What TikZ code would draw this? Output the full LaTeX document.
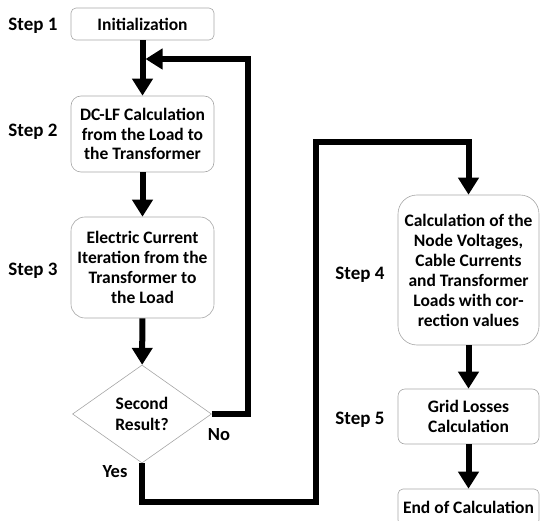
\documentclass[tikz,border=0pt]{standalone}
\usepackage{fontspec}
\setmainfont{Carlito}
\usetikzlibrary{arrows.meta,shapes.geometric}
\newlength{\BoxWidth}
\setlength{\BoxWidth}{143pt}
\tikzset{
  step box/.style={draw=gray!70, line width=0.6pt, minimum width=\BoxWidth,
    align=center, inner sep=2pt, font=\bfseries\fontsize{17.5}{20}\selectfont},
  decision/.style={draw=gray!70, line width=0.6pt, diamond, aspect=1.42,
    minimum width=139pt, minimum height=98pt, inner sep=0pt, align=center,
    font=\bfseries\fontsize{17.5}{21}\selectfont},
  step label/.style={anchor=east, font=\bfseries\fontsize{19}{20}\selectfont},
  answer/.style={font=\bfseries\fontsize{18.5}{20}\selectfont},
  flow/.style={line width=6pt, -{Triangle[width=20pt,length=17pt]}},
}

\begin{document}
\begin{tikzpicture}[x=1pt, y=-1pt]
  \useasboundingbox (0,0) rectangle (540,521);

  % left column
  \node[step box, rounded corners=5pt, minimum height=32pt] (init) at (142.5,24) {Initialization};
  \node[step box, rounded corners=10pt, minimum height=76pt,
    font=\bfseries\fontsize{17.5}{19.5}\selectfont] (dclf) at (142.5,134)
    {DC-LF Calculation\\from the Load to\\the Transformer};
  \node[step box, rounded corners=14pt, minimum height=101pt] (iter) at (142.5,267.5)
    {Electric Current\\Iteration from the\\Transformer to\\the Load};
  \node[decision] (decide) at (142,414) {Second\\Result?};

  % right column
  \node[step box, rounded corners=19pt, minimum width=141pt, minimum height=150pt] (corr) at (468.5,270)
    {Calculation of the\\Node Voltages,\\Cable Currents\\and Transformer\\Loads with cor-\\rection values};
  \node[step box, rounded corners=7pt, minimum width=141pt, minimum height=55pt] (loss) at (468.5,416.5)
    {Grid Losses\\Calculation};
  \node[step box, rounded corners=5pt, minimum width=141pt, minimum height=36pt] (endc) at (468.5,507)
    {End of Calculation};

  \node[step label] (s1) at (61,26) {Step 1};
  \node[step label] (s2) at (61,132) {Step 2};
  \node[step label] (s3) at (61,271) {Step 3};
  \node[step label] (s4) at (388,275) {Step 4};
  \node[step label] (s5) at (388,420) {Step 5};

  \node[answer] (no) at (219,435) {No};
  \node[answer] (yes) at (115,472) {Yes};

  \coordinate (noturn) at (248,59);
  \coordinate (yesturn) at (316,502);
  \coordinate (topturn) at (316,142);

  \draw[flow] (init) -- (dclf);
  \draw[flow] (dclf) -- (iter);
  \draw[flow] (iter) -- (decide);
  \draw[flow] (decide.east) -| (noturn) -- ([xshift=3pt]noturn -| init.south);
  \draw[flow] (decide.south) |- (yesturn) -- (topturn) -| (corr.north);
  \draw[flow] (corr) -- (loss);
  \draw[flow] (loss) -- (endc);
\end{tikzpicture}
\end{document}
